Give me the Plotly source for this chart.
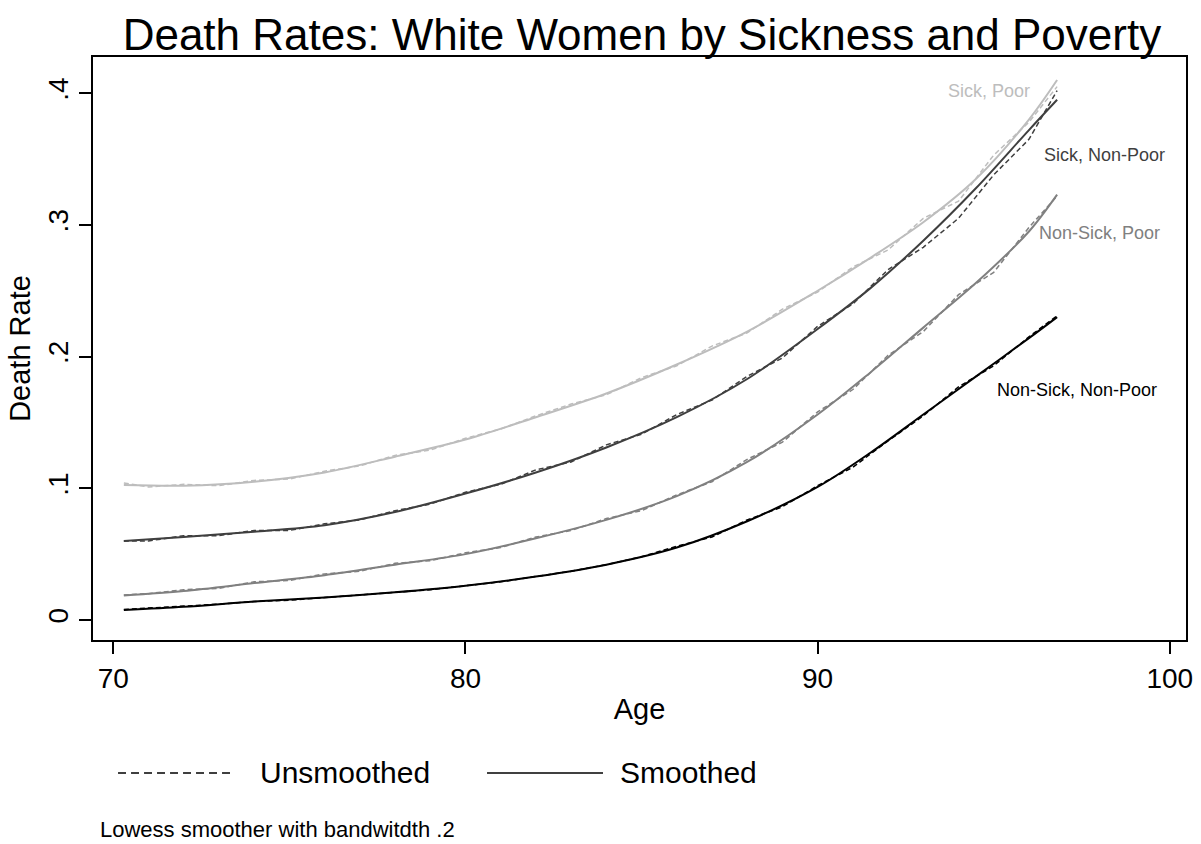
import plotly.graph_objects as go

# ---------------- data ----------------
ages_smooth = [70.3, 72, 74, 76, 78, 80, 82, 84, 86, 88, 90, 91.5, 93, 94.5, 96, 96.8]
sick_poor_s = [0.1025, 0.102, 0.105, 0.112, 0.124, 0.137, 0.154, 0.172, 0.194, 0.219, 0.250, 0.275, 0.302, 0.335, 0.380, 0.410]
sick_nonpoor_s = [0.060, 0.063, 0.067, 0.072, 0.082, 0.096, 0.112, 0.131, 0.154, 0.183, 0.221, 0.252, 0.288, 0.328, 0.372, 0.395]
nonsick_poor_s = [0.0186, 0.022, 0.028, 0.034, 0.042, 0.050, 0.062, 0.076, 0.094, 0.120, 0.156, 0.188, 0.222, 0.256, 0.295, 0.323]
nonsick_nonpoor_s = [0.0076, 0.010, 0.014, 0.017, 0.021, 0.026, 0.033, 0.042, 0.055, 0.075, 0.101, 0.127, 0.156, 0.185, 0.214, 0.230]

ages_raw = [70.3, 71, 72, 73, 74, 75, 76, 77, 78, 79, 80, 81, 82, 83, 84, 85, 86, 87,
            88, 89, 90, 91, 92, 93, 94, 95, 96, 96.8]
sick_poor_r = [0.104, 0.101, 0.103, 0.102, 0.106, 0.107, 0.113, 0.117, 0.125, 0.129, 0.138, 0.145,
               0.155, 0.164, 0.171, 0.184, 0.193, 0.208, 0.218, 0.236, 0.249, 0.268, 0.281, 0.305,
               0.318, 0.353, 0.378, 0.405]
sick_nonpoor_r = [0.060, 0.060, 0.064, 0.064, 0.068, 0.068, 0.073, 0.076, 0.083, 0.088, 0.097, 0.103,
                  0.114, 0.120, 0.133, 0.141, 0.156, 0.167, 0.185, 0.199, 0.223, 0.240, 0.266, 0.283,
                  0.305, 0.338, 0.365, 0.402]
nonsick_poor_r = [0.019, 0.020, 0.023, 0.024, 0.029, 0.030, 0.035, 0.037, 0.043, 0.045, 0.051, 0.055,
                  0.063, 0.068, 0.077, 0.083, 0.095, 0.105, 0.122, 0.135, 0.158, 0.175, 0.201, 0.219,
                  0.247, 0.264, 0.298, 0.322]
nonsick_nonpoor_r = [0.008, 0.009, 0.010, 0.012, 0.014, 0.015, 0.017, 0.019, 0.021, 0.023, 0.026, 0.029,
                     0.033, 0.037, 0.042, 0.048, 0.056, 0.063, 0.076, 0.086, 0.102, 0.116, 0.136, 0.155,
                     0.177, 0.193, 0.215, 0.231]

group_names = ["Sick, Poor", "Sick, Non-Poor", "Non-Sick, Poor", "Non-Sick, Non-Poor"]
group_colors = ["#bdbdbd", "#3f3f3f", "#808080", "#000000"]
smooth_series = [sick_poor_s, sick_nonpoor_s, nonsick_poor_s, nonsick_nonpoor_s]
raw_series = [sick_poor_r, sick_nonpoor_r, nonsick_poor_r, nonsick_nonpoor_r]
# label anchor (age, rate, xanchor)
label_pos = [(96.1, 0.4017, "right"), (96.36, 0.353, "left"), (96.22, 0.294, "left"), (95.03, 0.1746, "left")]

x_ticks = [70, 80, 90, 100]
y_ticks = [0, 0.1, 0.2, 0.3, 0.4]
y_tick_text = ["0", ".1", ".2", ".3", ".4"]

FONT = "Liberation Sans, Arial, sans-serif"

fig = go.Figure()
for name, col, raw, sm in zip(group_names, group_colors, raw_series, smooth_series):
    fig.add_trace(go.Scatter(x=ages_raw, y=raw, mode="lines", name=name + " (unsmoothed)",
                             line=dict(color=col, width=1.5, dash="5px,3px"), showlegend=False))
    fig.add_trace(go.Scatter(x=ages_smooth, y=sm, mode="lines", name=name,
                             line=dict(color=col, width=2, shape="spline", smoothing=0.9),
                             showlegend=False))

for name, col, (lx, ly, anc) in zip(group_names, group_colors, label_pos):
    fig.add_annotation(x=lx, y=ly, xref="x", yref="y", text=name, showarrow=False,
                       xanchor=anc, yanchor="middle", font=dict(family=FONT, size=18, color=col))

# legend (drawn manually to reproduce long key lines)
LEG_Y = -0.2281
fig.add_shape(type="line", xref="paper", yref="paper", x0=0.0229, x1=0.1281, y0=LEG_Y, y1=LEG_Y,
              line=dict(color="black", width=1.6, dash="8px,5px"))
fig.add_annotation(xref="paper", yref="paper", x=0.151, y=LEG_Y, text="Unsmoothed", showarrow=False,
                   xanchor="left", yanchor="middle", font=dict(family=FONT, size=30, color="black"))
fig.add_shape(type="line", xref="paper", yref="paper", x0=0.3605, x1=0.4666, y0=LEG_Y, y1=LEG_Y,
              line=dict(color="black", width=1.6))
fig.add_annotation(xref="paper", yref="paper", x=0.4803, y=LEG_Y, text="Smoothed", showarrow=False,
                   xanchor="left", yanchor="middle", font=dict(family=FONT, size=30, color="black"))
fig.add_annotation(xref="paper", yref="paper", x=0.0046, y=-0.3242, text="Lowess smoother with bandwitdth .2",
                   showarrow=False, xanchor="left", yanchor="middle",
                   font=dict(family=FONT, size=22, color="black"))

fig.update_layout(
    width=1201, height=844,
    margin=dict(l=93, r=15, t=57, b=204),
    paper_bgcolor="white", plot_bgcolor="white",
    font=dict(family=FONT, color="black"),
    title=dict(text="Death Rates: White Women by Sickness and Poverty", x=0.5345, xanchor="center",
               y=0.9585, yanchor="middle", automargin=False,
               font=dict(family=FONT, size=44, color="black")),
    showlegend=False,
)
fig.update_xaxes(range=[69.424, 100.46], tickvals=x_ticks, ticks="outside", ticklen=12, tickwidth=1.5,
                 tickcolor="black", showline=True, linecolor="black", linewidth=2, mirror=True,
                 showgrid=False, zeroline=False, tickfont=dict(family=FONT, size=28), automargin=False,
                 title=dict(text="Age", font=dict(family=FONT, size=29), standoff=6))
fig.update_yaxes(range=[-0.0152, 0.4275], tickvals=y_ticks, ticktext=y_tick_text, tickangle=-90,
                 ticks="outside", ticklen=12, tickwidth=1.5, tickcolor="black",
                 showline=True, linecolor="black", linewidth=2, mirror=True, automargin=False,
                 showgrid=False, zeroline=False, tickfont=dict(family=FONT, size=28),
                 title=dict(text="Death Rate", font=dict(family=FONT, size=29), standoff=4))

fig.write_html("out.html", config={"displayModeBar": False},
               post_script="document.body.style.margin='0';document.body.style.padding='0';")
